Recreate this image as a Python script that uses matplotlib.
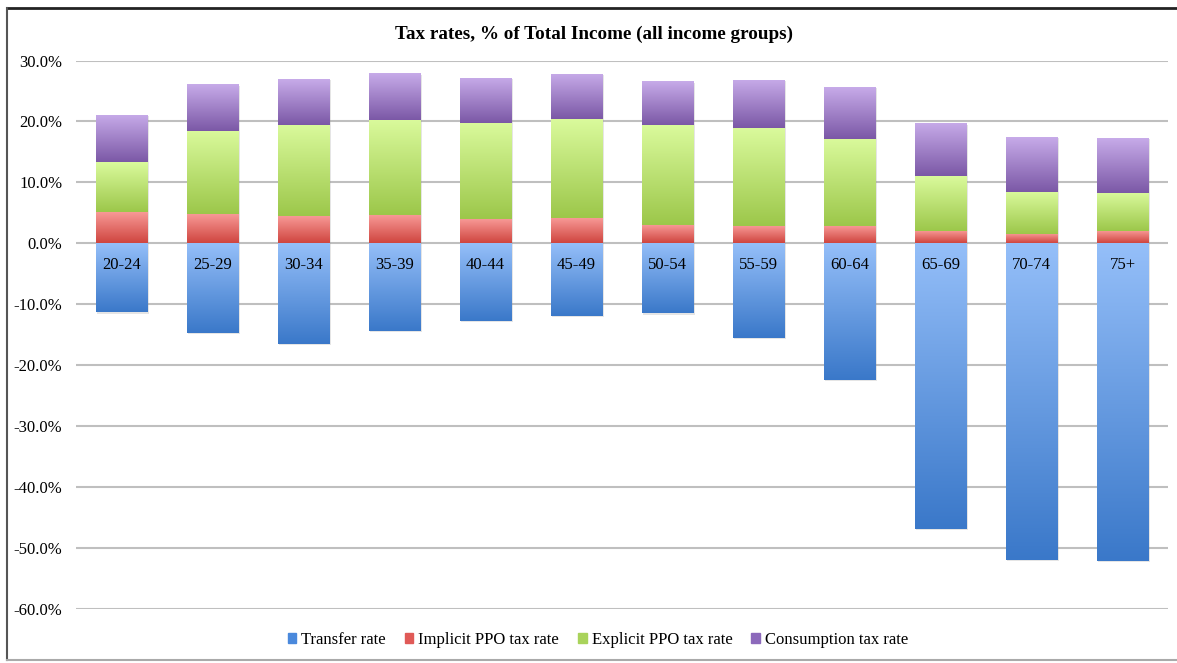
import matplotlib
matplotlib.use("Agg")
import matplotlib.pyplot as plt
import matplotlib.patheffects as pe
from matplotlib.colors import LinearSegmentedColormap
from matplotlib.lines import Line2D
from matplotlib.ticker import FuncFormatter
import numpy as np

# -----------------------------
# DATA (percent of total income)
# -----------------------------
age_groups = ["20-24", "25-29", "30-34", "35-39", "40-44", "45-49",
              "50-54", "55-59", "60-64", "65-69", "70-74", "75+"]
transfer_rate = [-11.3, -14.7, -16.5, -14.3, -12.7, -11.9,
                 -11.5, -15.5, -22.4, -46.8, -51.9, -52.1]
implicit_ppo = [5.2, 4.8, 4.5, 4.6, 4.0, 4.2, 3.0, 2.9, 2.9, 2.1, 1.6, 2.0]
explicit_ppo = [8.1, 13.7, 15.0, 15.7, 15.8, 16.2, 16.4, 16.0, 14.3, 8.9, 6.9, 6.3]
consumption_tax = [7.8, 7.6, 7.5, 7.6, 7.4, 7.4, 7.2, 7.9, 8.5, 8.7, 9.0, 9.0]
series_names = ["Transfer rate", "Implicit PPO tax rate",
                "Explicit PPO tax rate", "Consumption tax rate"]
title = "Tax rates, % of Total Income (all income groups)"

# gradient colours: (top, bottom) of every segment, plus legend swatch
GRADIENTS = [
    ("#95bff9", "#3a78c9"),
    ("#f99c99", "#cf453f"),
    ("#dafa9c", "#9cc74a"),
    ("#c7abe9", "#7b58a6"),
]
SWATCH = ["#4a89dc", "#e05a57", "#a9d35b", "#8c69bb"]

plt.rcParams["font.family"] = ["Liberation Serif", "DejaVu Serif"]

fig = plt.figure(figsize=(11.77, 6.63), dpi=100)
ax = fig.add_axes([0.0646, 0.0814, 0.9278, 0.8273])

x = np.arange(len(age_groups))
width = 0.57

pos_bottom = np.zeros(len(x))
for k, vals in enumerate([transfer_rate, implicit_ppo, explicit_ppo, consumption_tax]):
    vals = np.array(vals, dtype=float)
    if k == 0:
        bars = ax.bar(x, vals, width, color=SWATCH[k], label=series_names[k], zorder=2)
    else:
        bars = ax.bar(x, vals, width, bottom=pos_bottom, color=SWATCH[k],
                      label=series_names[k], zorder=2)
        pos_bottom = pos_bottom + vals

    cmap = LinearSegmentedColormap.from_list("g%d" % k, [GRADIENTS[k][1], GRADIENTS[k][0]])
    grad = np.linspace(0, 1, 256).reshape(-1, 1)
    for patch in bars.patches:
        patch.set_path_effects([pe.SimplePatchShadow(offset=(1, -1), shadow_rgbFace="#999999",
                                                     alpha=0.25), pe.Normal()])
        x0, y0 = patch.get_x(), patch.get_y()
        w, h = patch.get_width(), patch.get_height()
        ylo, yhi = min(y0, y0 + h), max(y0, y0 + h)
        im = ax.imshow(grad, cmap=cmap, origin="lower", aspect="auto",
                       extent=[x0, x0 + w, ylo, yhi], zorder=3, interpolation="bilinear")
        im.set_clip_path(patch)

for i, lab in enumerate(age_groups):
    ax.text(x[i], -3.6, lab, ha="center", va="center", fontsize=12, zorder=5)

ax.set_xlim(-0.5, len(age_groups) - 0.5)
ax.set_ylim(-60, 30)
ax.set_yticks(np.arange(-60, 31, 10))
ax.yaxis.set_major_formatter(FuncFormatter(lambda v, p: "%.1f%%" % v))
ax.tick_params(axis="y", length=0, pad=10, labelsize=12)
ax.tick_params(axis="x", bottom=False, labelbottom=False)
ax.grid(axis="y", color="#bfbfbf", linewidth=1.5, zorder=0)
ax.set_axisbelow(True)
for s in ax.spines.values():
    s.set_visible(False)

fig.text(0.505, 0.948, title, ha="center", va="center", fontsize=13.8, fontweight="bold")

handles = [plt.Rectangle((0, 0), 1, 1, color=c) for c in SWATCH]
fig.legend(handles, series_names, loc="center", bbox_to_anchor=(0.508, 0.035), ncol=4,
           frameon=False, fontsize=12, handlelength=0.5, handleheight=0.5,
           handletextpad=0.3, columnspacing=1.15)

# frame lines of the original chart window
fig.add_artist(Line2D([0.006, 1.0], [0.988, 0.988], color="#222222", linewidth=2))
fig.add_artist(Line2D([0.006, 0.006], [0.004, 0.988], color="#555555", linewidth=1.5))
fig.add_artist(Line2D([0.006, 1.0], [0.004, 0.004], color="#aaaaaa", linewidth=1.5))

fig.savefig("out.png", dpi=100)
